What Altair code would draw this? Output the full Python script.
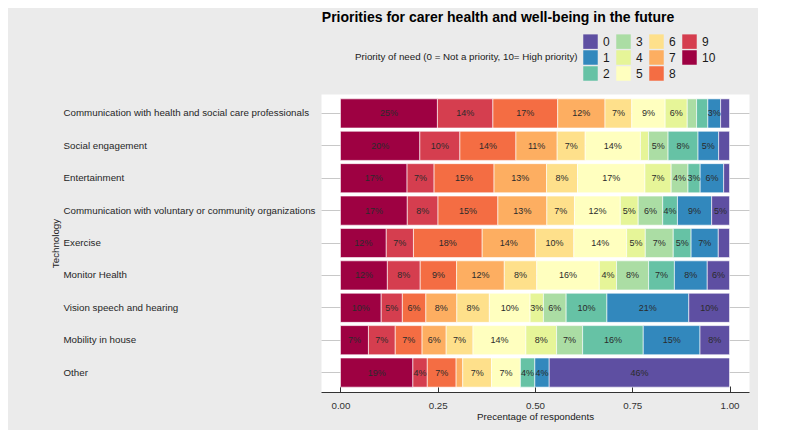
import altair as alt
import pandas as pd

technologies = [
    "Communication with health and social care professionals",
    "Social engagement",
    "Entertainment",
    "Communication with voluntary or community organizations",
    "Exercise",
    "Monitor Health",
    "Vision speech and hearing",
    "Mobility in house",
    "Other",
]

# priority levels, in stacking order (left to right)
priorities = [10, 9, 8, 7, 6, 5, 4, 3, 2, 1, 0]

# percentage of respondents per priority level (10 -> 0)
comm_health = [25.0, 14.3, 16.7, 12.2, 6.9, 8.6, 5.7, 2.4, 2.9, 3.3, 2.3]
social = [20.4, 10.3, 14.4, 10.6, 7.2, 14.2, 2.1, 5.0, 7.7, 5.3, 2.8]
entertainment = [17.0, 6.9, 15.3, 13.4, 7.9, 17.2, 6.7, 4.3, 3.1, 6.0, 1.5]
comm_voluntary = [17.2, 7.9, 15.4, 12.6, 7.1, 11.8, 4.6, 6.3, 3.8, 8.8, 4.6]
exercise = [11.8, 7.0, 17.7, 13.7, 9.9, 13.6, 4.8, 7.2, 4.6, 7.0, 2.9]
monitor = [12.0, 8.4, 9.3, 12.2, 8.3, 16.0, 4.4, 8.2, 6.6, 8.4, 5.7]
vision = [10.4, 5.4, 6.0, 7.9, 8.3, 10.4, 3.4, 5.8, 10.4, 20.9, 10.4]
mobility = [7.2, 6.9, 6.9, 6.2, 6.9, 13.6, 7.9, 6.7, 15.6, 14.6, 7.6]
other = [18.6, 3.7, 7.4, 1.7, 7.4, 7.4, 0.0, 0.0, 3.7, 3.7, 46.3]

series = [comm_health, social, entertainment, comm_voluntary, exercise,
          monitor, vision, mobility, other]

# colour per priority level (Spectral)
palette = {10: "#9e0142", 9: "#d53e4f", 8: "#f46d43", 7: "#fdae61",
           6: "#fee08b", 5: "#ffffbf", 4: "#e6f598", 3: "#abdda4",
           2: "#66c2a5", 1: "#3288bd", 0: "#5e4fa2"}
legend_order = [0, 1, 2, 3, 4, 5, 6, 7, 8, 9, 10]

rows = []
for tech, vals in zip(technologies, series):
    for p, v in zip(priorities, vals):
        rows.append({"tech": tech, "priority": str(p), "p": p, "pct": v})
df = pd.DataFrame(rows)

font = "Liberation Sans"

base = (
    alt.Chart(df)
    .transform_filter("datum.pct > 0")
    .transform_joinaggregate(total="sum(pct)", groupby=["tech"])
    .transform_calculate(frac="datum.pct / datum.total")
    .transform_stack(stack="frac", groupby=["tech"],
                     sort=[alt.SortField("p", order="descending")],
                     as_=["x0", "x1"])
    .transform_calculate(mid="(datum.x0 + datum.x1) / 2",
                         label="format(datum.pct, '.0f') + '%'")
)

xscale = alt.Scale(domain=[-0.05, 1.05], nice=False, zero=False)
tick_values = [0, 0.25, 0.5, 0.75, 1.0]

yenc = alt.Y(
    "tech:N", sort=technologies,
    scale=alt.Scale(paddingInner=0.1, paddingOuter=0.15),
    axis=alt.Axis(title="Technology", labelAlign="left", labelPadding=258,
                  ticks=False, tickSize=0, domain=False, grid=True,
                  gridColor="#c8c8c8", gridWidth=1, bandPosition=0.5,
                  labelFontSize=9.75, labelColor="#262626", labelLimit=0,
                  titleFontSize=9.75, titleFontWeight="normal",
                  titleColor="#1a1a1a", titleX=-261, titleY=149,
                  titleAngle=270, titleBaseline="bottom",
                  titleAlign="center"),
)

bars = base.mark_bar(stroke="white", strokeWidth=0.6).encode(
    x=alt.X("x0:Q", scale=xscale,
            axis=alt.Axis(orient="bottom", values=tick_values, format=".2f",
                          ticks=False, tickSize=0, grid=False,
                          domainColor="#333333", domainWidth=1,
                          labelFontSize=9.75, labelColor="#333333",
                          labelPadding=8,
                          title="Precentage of respondents",
                          titleFontSize=9.75, titleFontWeight="normal",
                          titleColor="#1a1a1a", titlePadding=2)),
    x2="x1:Q",
    y=yenc,
    color=alt.Color(
        "priority:N",
        scale=alt.Scale(domain=[str(k) for k in legend_order],
                        range=[palette[k] for k in legend_order]),
        legend=alt.Legend(
            orient="none", legendX=34, legendY=-60, columns=4,
            title="Priority of need (0 = Not a priority, 10= High priority)",
            titleOrient="left", titleFontSize=9.75, titleFontWeight="normal",
            titleColor="#1a1a1a", titleBaseline="middle",
            titleAnchor="middle", titlePadding=5, titleLimit=400,
            labelFontSize=12, labelColor="#1a1a1a", labelOffset=5,
            symbolType="square", symbolSize=210, symbolStrokeWidth=0,
            symbolOpacity=1, columnPadding=6, rowPadding=1, padding=0),
    ),
)

labels = base.transform_filter("datum.pct >= 3").mark_text(
    fontSize=9, color="#2b2b2b", font=font
).encode(
    x=alt.X("mid:Q", scale=xscale,
            axis=alt.Axis(orient="top", offset=-298, values=tick_values,
                          labels=False, domain=False, ticks=True,
                          tickSize=6, tickColor="#333333", grid=False,
                          title=None)),
    y=alt.Y("tech:N", sort=technologies),
    text="label:N",
)

chart = (
    alt.layer(bars, labels)
    .properties(
        width=428, height=298,
        padding={"left": 313, "top": 86, "right": 9, "bottom": 38},
        autosize=alt.AutoSizeParams(type="none"),
        background="#ebebeb",
        title=alt.Title(
            "Priorities for carer health and well-being in the future",
            fontSize=14, fontWeight="bold", color="black", font=font,
            anchor="middle", dx=-37, offset=9),
    )
    .configure(font=font)
    .configure_view(fill="white", stroke="transparent")
)

chart.save("out.html", embed_options={"renderer": "svg", "actions": False})
